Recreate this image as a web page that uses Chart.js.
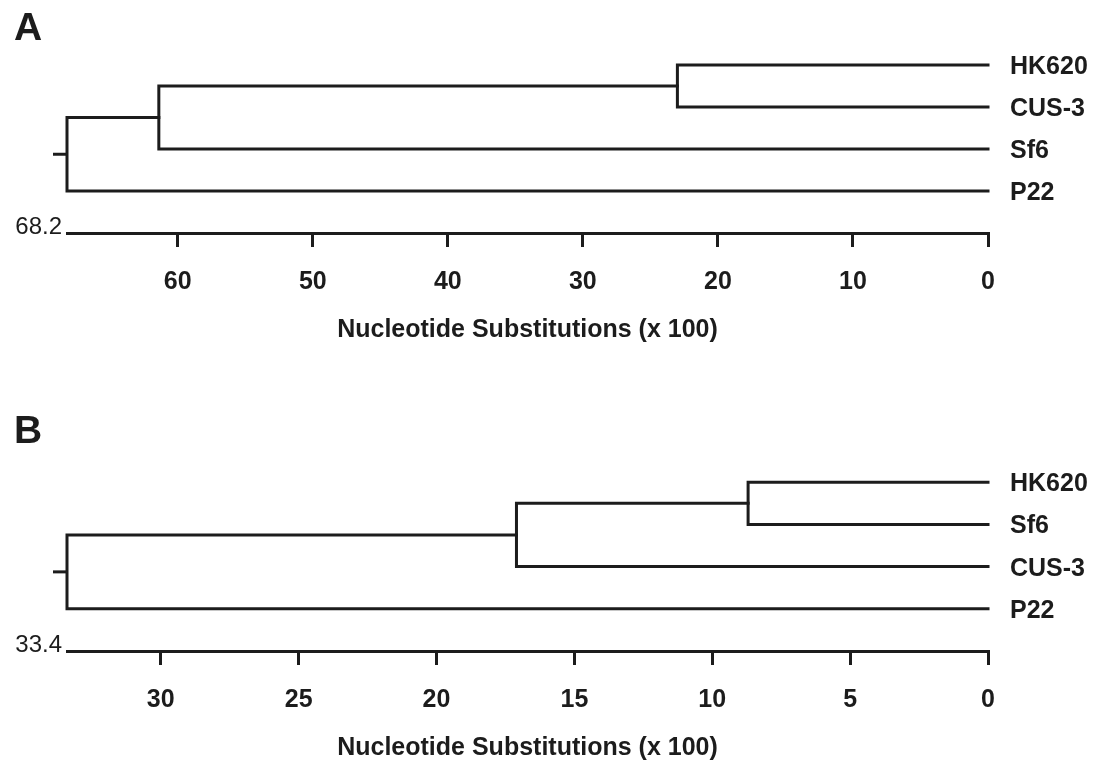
<!DOCTYPE html>
<html><head><meta charset="utf-8">
<script src="https://cdn.jsdelivr.net/npm/chart.js@4"></script>
<style>
html,body{margin:0;padding:0;background:#fff;}
#wrap{position:relative;width:1097px;height:761px;overflow:hidden;background:#fff;}
canvas{position:absolute;left:0;}
</style></head><body>
<div id="wrap">
<canvas id="cA" width="1097" height="380" style="top:0px"></canvas>
<canvas id="cB" width="1097" height="381" style="top:380px"></canvas>
</div>
<script>
// ---- Panel A data ----
const leavesA = ['HK620', 'CUS-3', 'Sf6', 'P22'];
const mergePairsA = [[0, 1], [4, 2], [5, 3]];
const mergeHeightsA = [23.0, 61.4, 68.2];
const axisMaxA = 68.2;
const tickValuesA = [0, 10, 20, 30, 40, 50, 60];

// ---- Panel B data ----
const leavesB = ['HK620', 'Sf6', 'CUS-3', 'P22'];
const mergePairsB = [[0, 1], [4, 2], [5, 3]];
const mergeHeightsB = [8.7, 17.1, 33.4];
const axisMaxB = 33.4;
const tickValuesB = [0, 5, 10, 15, 20, 25, 30];

const panelLetters = ['A', 'B'];
const axisTitle = 'Nucleotide Substitutions (x 100)';

const INK = '#1c1c1c';
const FAMILY = "'Liberation Sans', Arial, Helvetica, sans-serif";
const FS = 25;

function buildTree(leaves, pairs, heights) {
  const nodes = leaves.map((_, i) => ({ h: 0, y: i }));
  const datasets = [];
  pairs.forEach((p, k) => {
    const a = nodes[p[0]], b = nodes[p[1]], h = heights[k];
    datasets.push({
      data: [{ x: a.h, y: a.y }, { x: h, y: a.y }, { x: h, y: b.y }, { x: b.h, y: b.y }],
      showLine: true, borderColor: INK, borderWidth: 3, pointRadius: 0,
      fill: false, tension: 0, clip: false,
      borderCapStyle: 'square', borderJoinStyle: 'miter'
    });
    nodes.push({ h: h, y: (a.y + b.y) / 2 });
  });
  return { datasets, root: nodes[nodes.length - 1] };
}

const dendroPlugin = {
  id: 'dendro',
  afterDraw(chart, args, opts) {
    const ctx = chart.ctx, xs = chart.scales.x, ys = chart.scales.y, ca = chart.chartArea;
    ctx.save();
    // root stub
    const rx = xs.getPixelForValue(opts.root.h), ry = ys.getPixelForValue(opts.root.y);
    ctx.strokeStyle = INK; ctx.lineWidth = 3;
    ctx.beginPath(); ctx.moveTo(rx, ry); ctx.lineTo(rx - 14, ry); ctx.stroke();
    // leaf labels
    ctx.fillStyle = INK;
    ctx.font = 'bold ' + FS + 'px ' + FAMILY;
    ctx.textAlign = 'left'; ctx.textBaseline = 'alphabetic';
    opts.leaves.forEach((name, i) => {
      ctx.fillText(name, ca.right + 22, ys.getPixelForValue(i) + 9);
    });
    // axis max label
    ctx.font = '24px ' + FAMILY;
    ctx.textAlign = 'right';
    ctx.fillText(String(opts.axisMax), xs.getPixelForValue(opts.axisMax) - 5, ca.bottom + 1);
    // panel letter
    ctx.font = 'bold 39px ' + FAMILY;
    ctx.textAlign = 'left';
    ctx.fillText(opts.letter, 14, opts.letterBaseline);
    ctx.restore();
  }
};

function makeChart(id, leaves, pairs, heights, axisMax, tickValues, letter, letterBaseline, pad) {
  const tree = buildTree(leaves, pairs, heights);
  return new Chart(document.getElementById(id), {
    type: 'scatter',
    data: { datasets: tree.datasets },
    options: {
      responsive: false, animation: false, devicePixelRatio: 1,
      layout: { padding: pad },
      plugins: {
        legend: { display: false }, tooltip: { enabled: false },
        dendro: { leaves, root: tree.root, axisMax, letter, letterBaseline }
      },
      scales: {
        x: {
          type: 'linear', reverse: true, min: 0, max: axisMax,
          afterBuildTicks: s => { s.ticks = tickValues.map(v => ({ value: v })); },
          ticks: { font: { family: FAMILY, size: FS, weight: 'bold', lineHeight: 1 }, color: INK, padding: 23, maxRotation: 0, autoSkip: false },
          grid: { drawOnChartArea: false, drawTicks: true, tickLength: 14, lineWidth: 3, color: INK, tickColor: INK },
          border: { display: true, width: 3, color: INK },
          title: { display: true, text: axisTitle, color: INK, font: { family: FAMILY, size: FS, weight: 'bold', lineHeight: 1 }, padding: { top: 0, bottom: 0 } }
        },
        y: { type: 'linear', display: false, reverse: true, min: -1, max: 4 }
      }
    },
    plugins: [dendroPlugin]
  });
}

makeChart('cA', leavesA, mergePairsA, mergeHeightsA, axisMaxA, tickValuesA, panelLetters[0], 40,
  { left: 67, right: 109, top: 23, bottom: 37 });
makeChart('cB', leavesB, mergePairsB, mergeHeightsB, axisMaxB, tickValuesB, panelLetters[1], 63,
  { left: 67, right: 109, top: 60, bottom: 0 });
</script>
</body></html>
